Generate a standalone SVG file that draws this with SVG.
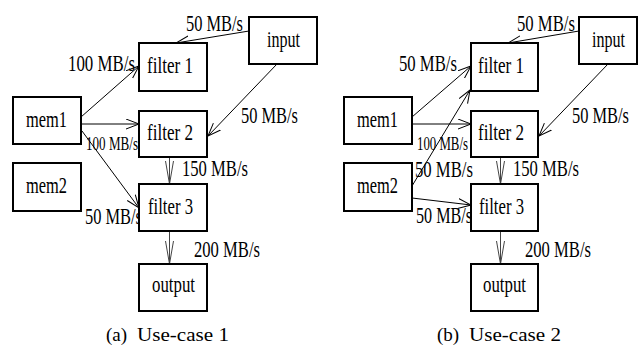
<svg xmlns="http://www.w3.org/2000/svg" width="639" height="346" viewBox="0 0 639 346">
<style>
.box{fill:#fff;stroke:#000;stroke-width:2}
.nt{font-family:'Liberation Serif',serif;font-size:24px;text-anchor:middle;fill:#000}
.el{font-family:'Liberation Serif',serif;font-size:24px;fill:#000}
.sm{font-family:'Liberation Serif',serif;font-size:18px;fill:#000}
.cap{font-family:'Liberation Serif',serif;font-size:19px;fill:#000}
.e{fill:none;stroke:#000;stroke-width:1}
.v{fill:none;stroke:#444;stroke-width:1}
</style>
<defs>
<marker id="ah" markerUnits="userSpaceOnUse" markerWidth="14" markerHeight="12" refX="13" refY="5.5" orient="auto" viewBox="0 0 14 12">
<path d="M0,0.5 L13,5.5 L0,10.5" fill="none" stroke="#000" stroke-width="1"/>
</marker>
<marker id="av" markerUnits="userSpaceOnUse" markerWidth="24" markerHeight="10" refX="23" refY="4.5" orient="auto" viewBox="0 0 24 10">
<path d="M0,0.5 L23,4.5 L0,8.5" fill="none" stroke="#444" stroke-width="1"/>
</marker>
</defs>
<g id="connectors">
<path class="e" d="M249,31 L176,43" marker-end="url(#ah)"/>
<path class="e" d="M81,117 L139,66" marker-end="url(#ah)"/>
<path class="e" d="M81,124 L139,124" marker-end="url(#ah)"/>
<path class="e" d="M82,131 L139,208" marker-end="url(#ah)"/>
<path class="e" d="M277,64 L208,136" marker-end="url(#ah)"/>
<path class="v" d="M169.5,157 L169.5,184" marker-end="url(#av)"/>
<path class="v" d="M169.5,231 L169.5,264" marker-end="url(#av)"/>
<path class="e" d="M579,31 L508,43" marker-end="url(#ah)"/>
<path class="e" d="M412,117 L471,66" marker-end="url(#ah)"/>
<path class="e" d="M412,124 L471,124" marker-end="url(#ah)"/>
<path class="e" d="M412,186 L470,90" marker-end="url(#ah)"/>
<path class="e" d="M412,198 L471,205" marker-end="url(#ah)"/>
<path class="e" d="M608,64 L539,136" marker-end="url(#ah)"/>
<path class="v" d="M500.5,157 L500.5,184" marker-end="url(#av)"/>
<path class="v" d="M500.5,231 L500.5,264" marker-end="url(#av)"/>
</g>
<g id="labels-a">
<text class="el" x="186" y="31" textLength="57" lengthAdjust="spacingAndGlyphs">50 MB/s</text>
<text class="el" x="68" y="71" textLength="67" lengthAdjust="spacingAndGlyphs">100 MB/s</text>
<text class="el" x="241" y="123" textLength="57" lengthAdjust="spacingAndGlyphs">50 MB/s</text>
<text class="sm" x="86" y="150" textLength="52" lengthAdjust="spacingAndGlyphs">100 MB/s</text>
<text class="el" x="182" y="176" textLength="66" lengthAdjust="spacingAndGlyphs">150 MB/s</text>
<text class="el" x="85" y="224" textLength="57" lengthAdjust="spacingAndGlyphs">50 MB/s</text>
<text class="el" x="194" y="257" textLength="66" lengthAdjust="spacingAndGlyphs">200 MB/s</text>
</g>
<g id="labels-b">
<text class="el" x="517" y="31" textLength="58" lengthAdjust="spacingAndGlyphs">50 MB/s</text>
<text class="el" x="399" y="71" textLength="58" lengthAdjust="spacingAndGlyphs">50 MB/s</text>
<text class="el" x="572" y="123" textLength="57" lengthAdjust="spacingAndGlyphs">50 MB/s</text>
<text class="sm" x="417" y="150" textLength="51" lengthAdjust="spacingAndGlyphs">100 MB/s</text>
<text class="el" x="415" y="177" textLength="58" lengthAdjust="spacingAndGlyphs">50 MB/s</text>
<text class="el" x="513" y="176" textLength="66" lengthAdjust="spacingAndGlyphs">150 MB/s</text>
<text class="el" x="416" y="223" textLength="56" lengthAdjust="spacingAndGlyphs">50 MB/s</text>
<text class="el" x="525" y="257" textLength="66" lengthAdjust="spacingAndGlyphs">200 MB/s</text>
</g>
<g id="a-input"><rect class="box" x="249" y="17" width="68" height="47"/><text class="nt" x="283.5" y="47" textLength="33" lengthAdjust="spacingAndGlyphs">input</text></g>
<g id="a-filter1"><rect class="box" x="139" y="43" width="68" height="48"/><text class="nt" x="170" y="73" textLength="46" lengthAdjust="spacingAndGlyphs">filter 1</text></g>
<g id="a-filter2"><rect class="box" x="139" y="111" width="68" height="46"/><text class="nt" x="170" y="140" textLength="46" lengthAdjust="spacingAndGlyphs">filter 2</text></g>
<g id="a-mem1"><rect class="box" x="13" y="97" width="68" height="47"/><text class="nt" x="46.5" y="127" textLength="41" lengthAdjust="spacingAndGlyphs">mem1</text></g>
<g id="a-mem2"><rect class="box" x="13" y="163" width="68" height="48"/><text class="nt" x="46.5" y="193" textLength="41" lengthAdjust="spacingAndGlyphs">mem2</text></g>
<g id="a-filter3"><rect class="box" x="139" y="184" width="68" height="47"/><text class="nt" x="170.5" y="214" textLength="45" lengthAdjust="spacingAndGlyphs">filter 3</text></g>
<g id="a-output"><rect class="box" x="139" y="264" width="68" height="47"/><text class="nt" x="173.5" y="292" textLength="43" lengthAdjust="spacingAndGlyphs">output</text></g>
<g id="b-input"><rect class="box" x="579" y="17" width="58" height="47"/><text class="nt" x="608.5" y="47" textLength="33" lengthAdjust="spacingAndGlyphs">input</text></g>
<g id="b-filter1"><rect class="box" x="471" y="43" width="67" height="48"/><text class="nt" x="501" y="73" textLength="46" lengthAdjust="spacingAndGlyphs">filter 1</text></g>
<g id="b-filter2"><rect class="box" x="471" y="111" width="67" height="46"/><text class="nt" x="501" y="140" textLength="46" lengthAdjust="spacingAndGlyphs">filter 2</text></g>
<g id="b-mem1"><rect class="box" x="344" y="97" width="68" height="47"/><text class="nt" x="377.5" y="127" textLength="41" lengthAdjust="spacingAndGlyphs">mem1</text></g>
<g id="b-mem2"><rect class="box" x="344" y="163" width="68" height="48"/><text class="nt" x="377.5" y="193" textLength="41" lengthAdjust="spacingAndGlyphs">mem2</text></g>
<g id="b-filter3"><rect class="box" x="471" y="184" width="67" height="47"/><text class="nt" x="501.5" y="214" textLength="45" lengthAdjust="spacingAndGlyphs">filter 3</text></g>
<g id="b-output"><rect class="box" x="471" y="264" width="67" height="47"/><text class="nt" x="504.5" y="292" textLength="43" lengthAdjust="spacingAndGlyphs">output</text></g>
<g id="captions">
<text class="cap" x="106" y="341">(a)</text>
<text class="cap" x="137" y="341" textLength="92" lengthAdjust="spacingAndGlyphs">Use-case 1</text>
<text class="cap" x="437" y="341">(b)</text>
<text class="cap" x="469" y="341" textLength="92" lengthAdjust="spacingAndGlyphs">Use-case 2</text>
</g>
</svg>
